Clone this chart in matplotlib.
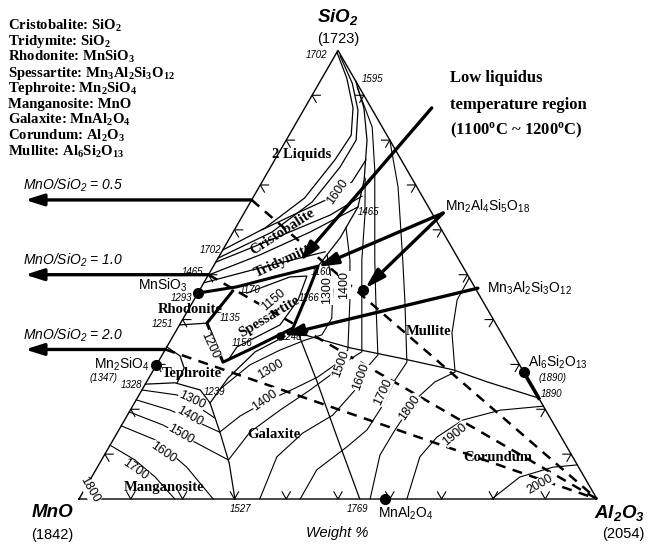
import numpy as np
import matplotlib.pyplot as plt

plt.rcParams['font.family'] = ['Liberation Sans', 'DejaVu Sans']
plt.rcParams['mathtext.default'] = 'regular'

H = np.sqrt(3) / 2

# every curve is a list of (SiO2 wt%, Al2O3 wt%); MnO is the balance
two_liquid = [(99.6, 0), (93.8, 4.8), (87.2, 9.3), (81.1, 12.0), (75.6, 11.6),
              (67.1, 10.0), (60.4, 5.7), (55.5, 0)]
two_liquid_in = [(98.8, 1.0), (92.7, 6.4), (86.7, 10.5), (80.0, 13.5), (74.0, 13.4),
                 (66.2, 11.9), (59.5, 7.5), (53.7, 0)]
silica_mullite = [(93.2, 6.8), (87.2, 11.4), (80.0, 15.6), (71.1, 19.5), (65.1, 21.3),
                  (58.2, 21.3), (51.9, 20.2)]
cristo_trid = [(49.9, 0), (54.4, 7.7), (59.5, 14.85), (65.1, 21.3)]
rhod_teph = [(38.8, 0), (39.2, 5.1)]
teph_gal = [(36.3, 21.65), (32.8, 17.6), (27.0, 15.3), (21.4, 14.6)]
teph_mang = [(25.6, 0), (25.9, 5.55), (24.3, 11.25), (21.4, 14.6)]
mang_gal = [(21.4, 14.6), (14.9, 19.75), (8.0, 25.0), (0, 30.1)]
gal_cor = [(37.0, 23.8), (26.5, 32.6), (13.2, 43.4), (0, 54.2)]
cor_mul = [(37.0, 23.8), (33.7, 35.45), (31.4, 46.3), (28.8, 57.8), (26.1, 65.75),
           (22.5, 77.5)]

# thick outline of the low liquidus region
valley = [(45.9, 0), (47.3, 6.85), (49.5, 13.05), (51.9, 20.2), (44.4, 21.4), (38.1, 22.25)]
low_left = [(46.4, 6.5), (39.2, 5.1), (30.5, 12.55), (33.9, 17.05), (38.1, 22.25)]

# isotherms
iso = {
    1800: [(3.1, 0), (1.6, 2.1), (0, 4.2)],
    1700: [(12.0, 0), (8.7, 6.45), (4.9, 12.25), (0, 18.5)],
    1600: [(16.3, 0), (13.2, 8.1), (7.1, 17.25), (0, 25.9)],
    1500: [(19.4, 0), (16.5, 7.95), (12.9, 15.55), (8.7, 24.5)],
    1400: [(22.1, 0), (19.8, 7.7), (17.4, 13.7), (14.9, 19.7)],
    1300: [(24.3, 0), (23.2, 7.3), (20.7, 12.45), (18.1, 17.1)],
}
iso_gal = {
    1300: [(24.7, 15.1), (29.9, 18.05), (33.2, 22.2), (35.4, 25.9), (36.6, 28.6),
           (40.3, 28.65), (46.6, 25.7), (54.4, 20.7)],
    1400: [(14.9, 19.7), (18.5, 21.85), (21.6, 25.1), (24.7, 29.35), (27.2, 32.5),
           (29.9, 34.45), (33.2, 35.3), (44.4, 30.1), (53.3, 25.65), (60.5, 21.3)],
    1500: [(8.7, 24.5), (14.9, 25.55), (19.8, 28.9), (24.3, 32.45), (27.6, 34.7),
           (30.5, 36.15), (32.8, 38.2), (44.4, 32.4), (53.3, 27.95), (63.3, 23.55),
           (71.5, 19.5)],
    1600: [(0, 34.9), (9.4, 33.5), (14.7, 35.85), (18.7, 39.65), (24.3, 41.15),
           (28.8, 40.8), (32.1, 41.65), (44.4, 35.1), (53.3, 30.45), (73.3, 20.45),
           (82.9, 15.15), (91.8, 7.8)],
    1700: [(0, 42.7), (6.5, 42.65), (11.6, 45.9), (15.4, 47.9), (21.0, 48.2),
           (26.5, 47.75), (30.5, 48.05), (44.4, 40.7), (53.3, 35.85), (69.5, 26.85),
           (80.0, 20.0)],
    1800: [(0, 56.2), (9.8, 53.2), (15.4, 53.3), (22.1, 53.85), (26.1, 55.65),
           (28.3, 58.45), (37.0, 53.5), (44.4, 50.8), (49.3, 50.7)],
    1900: [(0, 63.3), (9.4, 61.1), (13.8, 62.2), (17.6, 65.3), (19.8, 71.4), (20.7, 79.3)],
    2000: [(0, 79.7), (4.9, 82.65), (7.1, 87.95), (7.6, 92.4)],
}
iso_cristo_1600 = [(75.6, 17.6), (70.7, 17.35), (67.1, 14.95), (63.5, 9.95), (60.0, 5.3)]
iso_cristo = [(52.8, 0), (57.7, 8.05), (63.3, 16.85), (67.5, 20.85)]
iso_trid = [(48.2, 0), (51.5, 9.15), (55.1, 19.95)]
iso_teph = [(33.9, 0), (31.9, 3.55), (29.2, 5.7), (25.9, 6.0)]
iso_spess_1150 = [(45.9, 9.45), (49.5, 15.95), (49.7, 19.15), (44.4, 20.1), (38.8, 19.4),
                  (33.9, 13.55), (31.0, 13.3)]

# compounds (SiO2, Al2O3)
compounds = {
    'MnSiO3': (45.9, 0), 'Mn2SiO4': (29.8, 0), 'MnAl2O4': (0, 59.0),
    'Al6Si2O13': (28.2, 71.8), 'Mn2Al4Si5O18': (46.5, 31.6), 'Mn3Al2Si3O12': (36.4, 20.6),
}
mullite_ss = [(28.2, 71.8), (22.5, 77.5)]

ratios = [0.5, 1.0, 2.0]
ratio_labels = ['0.5', '1.0', '2.0']
low_target = (52.5, 16.0)
trid_target = (51.5, 19.8)

legend = ['Cristobalite: SiO$_2$', 'Tridymite: SiO$_2$', 'Rhodonite: MnSiO$_3$',
          'Spessartite: Mn$_3$Al$_2$Si$_3$O$_{12}$', 'Tephroite: Mn$_2$SiO$_4$',
          'Manganosite: MnO', 'Galaxite: MnAl$_2$O$_4$', 'Corundum: Al$_2$O$_3$',
          'Mullite: Al$_6$Si$_2$O$_{13}$']


def xy(pts):
    p = np.asarray(pts, float) / 100
    si, al = p[:, 0], p[:, 1]
    return al + si / 2, si * H


def pt(si, al):
    return al / 100 + si / 200, si / 100 * H


fig = plt.figure(figsize=(6.48, 5.45), dpi=100)
ax = fig.add_axes([0, 0, 1, 1])
ax.set_xlim(-79 / 518, 569 / 518)
ax.set_ylim(-46 / 518, 499 / 518)
ax.axis('off')

# triangle frame
ax.plot([0, 1, 0.5, 0], [0, 0, H, 0], color='k', lw=1.0)

# chevron ticks every 10 %
L = 0.016
for t in np.arange(0.1, 0.95, 0.1):
    for (px, py), angs in [((t, 0), (60, 120)),
                           ((t / 2, t * H), (0, -60)),
                           ((1 - t / 2, t * H), (180, 240))]:
        a1, a2 = np.radians(angs)
        ax.plot([px + L * np.cos(a1), px, px + L * np.cos(a2)],
                [py + L * np.sin(a1), py, py + L * np.sin(a2)], color='k', lw=0.8)

thin = dict(color='k', lw=0.9)
for c in [two_liquid, two_liquid_in, silica_mullite, cristo_trid, rhod_teph, teph_gal,
          teph_mang, mang_gal, gal_cor, cor_mul, iso_cristo_1600, iso_cristo, iso_trid,
          iso_teph, iso_spess_1150]:
    ax.plot(*xy(c), **thin)
for c in list(iso.values()) + list(iso_gal.values()):
    ax.plot(*xy(c), color='k', lw=0.8)

for c in [valley, low_left]:
    ax.plot(*xy(c), color='k', lw=2.2, solid_capstyle='round')
ax.plot(*xy(mullite_ss), color='k', lw=2.6)

# constant MnO/SiO2 lines toward Al2O3 and their arrows
for r, lab in zip(ratios, ratio_labels):
    si = 100 / (1 + r)
    x0, y0 = pt(si, 0)
    ax.plot([x0, 1], [y0, 0], color='k', lw=1.8, ls=(0, (4, 3)))
    ax.annotate('', xy=(-0.104, y0), xytext=(x0, y0),
                arrowprops=dict(arrowstyle='-|>,head_length=1.1,head_width=0.35',
                                lw=2.4, color='k', shrinkA=0, shrinkB=0))
    ax.text(-0.108, y0 + 0.028, 'MnO/SiO$_2$ = ' + lab, fontsize=10, style='italic',
            ha='left', va='center')

# compounds
for name, (si, al) in compounds.items():
    ms = 5 if name == 'Mn3Al2Si3O12' else 7
    ax.plot(*pt(si, al), 'o', color='k', ms=ms, zorder=5)

arrow_kw = dict(arrowstyle='-|>,head_length=1.2,head_width=0.35', lw=2.4, color='k',
                shrinkA=0, shrinkB=2)
ax.annotate('', xy=pt(*low_target), xytext=(0.681, 0.755), arrowprops=arrow_kw)
ax.annotate('', xy=pt(*compounds['Mn2Al4Si5O18']), xytext=(0.703, 0.552), arrowprops=arrow_kw)
ax.annotate('', xy=pt(*trid_target), xytext=(0.703, 0.552), arrowprops=arrow_kw)
ax.annotate('', xy=pt(*compounds['Mn3Al2Si3O12']), xytext=(0.770, 0.407), arrowprops=arrow_kw)

# corner labels
corner = dict(fontsize=13.5, fontweight='bold', style='italic', va='center')
ax.text(0.500, 0.930, 'SiO$_2$', ha='center', **corner)
ax.text(0.500, 0.888, '(1723)', fontsize=10.5, ha='center', va='center')
ax.text(-0.052, -0.027, 'MnO', ha='center', **corner)
ax.text(-0.052, -0.069, '(1842)', fontsize=10.5, ha='center', va='center')
ax.text(1.093, -0.027, 'Al$_2$O$_3$', ha='right', **corner)
ax.text(1.050, -0.068, '(2054)', fontsize=10.5, ha='center', va='center')
ax.text(0.498, -0.066, 'Weight %', fontsize=10.5, style='italic', ha='center', va='center')

# compound labels
ax.text(0.209, 0.413, 'MnSiO$_3$', fontsize=10, ha='right', va='center')
ax.text(0.137, 0.261, 'Mn$_2$SiO$_4$', fontsize=10, ha='right', va='center')
ax.text(0.867, 0.264, 'Al$_6$Si$_2$O$_{13}$', fontsize=10, ha='left', va='center')
ax.text(0.631, -0.027, 'MnAl$_2$O$_4$', fontsize=10, ha='center', va='center')
ax.text(0.707, 0.566, 'Mn$_2$Al$_4$Si$_5$O$_{18}$', fontsize=10, ha='left', va='center')
ax.text(0.788, 0.407, 'Mn$_3$Al$_2$Si$_3$O$_{12}$', fontsize=10, ha='left', va='center')

# small temperature marks
small = [('1702', 0.459, 0.857), ('1595', 0.566, 0.811), ('1702', 0.253, 0.481),
         ('1465', 0.220, 0.438), ('1465', 0.558, 0.554), ('1293', 0.197, 0.388),
         ('1251', 0.162, 0.338), ('(1347)', 0.048, 0.234), ('1328', 0.102, 0.220),
         ('1239', 0.261, 0.207), ('1527', 0.311, -0.019), ('1769', 0.537, -0.019),
         ('1890', 0.913, 0.203), ('(1890)', 0.915, 0.234), ('1135', 0.292, 0.349),
         ('1170', 0.330, 0.403), ('1156', 0.315, 0.301), ('1248', 0.410, 0.313),
         ('1160', 0.467, 0.438), ('1166', 0.444, 0.388)]
for s, x, y in small:
    ax.text(x, y, s, fontsize=7, style='italic', ha='center', va='center')

# isotherm labels: text, x, y, rotation
iso_labels = [('1800', 0.020, 0.018, -60), ('1700', 0.108, 0.056, -35),
              ('1600', 0.162, 0.089, -35), ('1500', 0.197, 0.125, -30),
              ('1400', 0.214, 0.160, -30), ('1300', 0.218, 0.191, -25),
              ('1300', 0.369, 0.251, 30), ('1400', 0.359, 0.191, 35),
              ('1500', 0.506, 0.260, 70), ('1600', 0.544, 0.235, 70),
              ('1700', 0.587, 0.207, 65), ('1800', 0.639, 0.176, 55),
              ('1900', 0.726, 0.125, 40), ('2000', 0.890, 0.029, 30),
              ('1300', 0.479, 0.403, 90), ('1400', 0.512, 0.413, 90),
              ('1600', 0.500, 0.593, 55), ('1150', 0.375, 0.384, 40),
              ('1200', 0.253, 0.297, -65)]
for s, x, y, r in iso_labels:
    ax.text(x, y, s, fontsize=9, ha='center', va='center', rotation=r,
            bbox=dict(fc='white', ec='none', pad=0.3))

# phase fields
field = dict(family=['Liberation Serif', 'DejaVu Serif'], fontweight='bold', fontsize=10.5,
             ha='center', va='center')
ax.text(0.429, 0.666, '2 Liquids', **field)
ax.text(0.392, 0.515, 'Cristobalite', rotation=33, **field)
ax.text(0.394, 0.459, 'Tridymite', rotation=25, **field)
ax.text(0.214, 0.365, 'Rhodonite', **field)
ax.text(0.367, 0.351, 'Spessartite', rotation=31, **field)
ax.text(0.218, 0.243, 'Tephroite', **field)
ax.text(0.376, 0.124, 'Galaxite', **field)
ax.text(0.164, 0.023, 'Manganosite', **field)
ax.text(0.674, 0.324, 'Mullite', **field)
ax.text(0.809, 0.081, 'Corundum', **field)

# legend of phases
for i, s in enumerate(legend):
    fig.text(8 / 648, 1 - (26 + 15.7 * i) / 545, s, family=['Liberation Serif', 'DejaVu Serif'],
             fontweight='bold', fontsize=10.6, ha='left', va='center')

note = dict(family=['Liberation Serif', 'DejaVu Serif'], fontweight='bold', fontsize=12,
            ha='left', va='center')
ax.text(0.716, 0.813, 'Low liquidus', **note)
ax.text(0.716, 0.761, 'temperature region', **note)
ax.text(0.716, 0.712, '(1100$^o$C ~ 1200$^o$C)', **note)

fig.savefig('out.png', dpi=100)
